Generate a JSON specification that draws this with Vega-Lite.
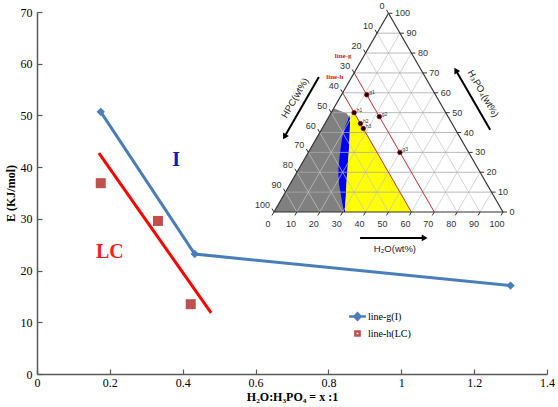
{
  "$schema": "https://vega.github.io/schema/vega-lite/v6.json",
  "width": 510,
  "height": 362,
  "autosize": {"type": "none"},
  "padding": {"left": 37, "top": 12, "right": 11, "bottom": 33},
  "background": "white",
  "config": {
    "view": {"stroke": null},
    "font": "Liberation Serif",
    "axis": {
      "grid": false,
      "domainColor": "#595959",
      "domainWidth": 1.5,
      "tickColor": "#595959",
      "tickWidth": 1.2,
      "labelFont": "Liberation Serif",
      "labelFontSize": 12,
      "labelColor": "#000000",
      "titleFont": "Liberation Serif",
      "titleFontSize": 12,
      "titleFontWeight": "bold",
      "titleColor": "#000000"
    }
  },
  "datasets": {
    "main": [
      {"series": "line-g(I)", "x": 0.175, "E": 50.7},
      {"series": "line-g(I)", "x": 0.433, "E": 23.2},
      {"series": "line-g(I)", "x": 1.3, "E": 17.1},
      {"series": "line-h(LC)", "x": 0.175, "E": 36.9},
      {"series": "line-h(LC)", "x": 0.332, "E": 29.6},
      {"series": "line-h(LC)", "x": 0.422, "E": 13.5}
    ],
    "fit": [{"x": 0.17, "E": 42.7}, {"x": 0.478, "E": 11.8}],
    "notes": [{"label": "I", "x": 0.382, "E": 41.4}, {"label": "LC", "x": 0.2, "E": 23.6}],
    "regions": [
      {"phase": "gray", "ty": 0, "tx": 0, "tx2": 31.0},
      {"phase": "gray", "ty": 7, "tx": 4.04, "tx2": 31.3},
      {"phase": "gray", "ty": 13.9, "tx": 8.03, "tx2": 31.7},
      {"phase": "gray", "ty": 20, "tx": 11.55, "tx2": 32.3},
      {"phase": "gray", "ty": 28.5, "tx": 16.45, "tx2": 32.8},
      {"phase": "gray", "ty": 35, "tx": 20.2, "tx2": 33.2},
      {"phase": "gray", "ty": 40.8, "tx": 23.55, "tx2": 33.2},
      {"phase": "gray", "ty": 43, "tx": 24.8, "tx2": 31.7},
      {"phase": "gray", "ty": 44, "tx": 25.4, "tx2": 29.0},
      {"phase": "gray", "ty": 45.2, "tx": 26.1, "tx2": 26.1},
      {"phase": "blue", "ty": 0, "tx": 30.6, "tx2": 31.0},
      {"phase": "blue", "ty": 4, "tx": 29.8, "tx2": 31.2},
      {"phase": "blue", "ty": 8.2, "tx": 29.1, "tx2": 31.5},
      {"phase": "blue", "ty": 12, "tx": 28.4, "tx2": 31.7},
      {"phase": "blue", "ty": 16.9, "tx": 28.1, "tx2": 32.1},
      {"phase": "blue", "ty": 20, "tx": 28.2, "tx2": 32.3},
      {"phase": "blue", "ty": 25.6, "tx": 28.8, "tx2": 32.7},
      {"phase": "blue", "ty": 32, "tx": 29.7, "tx2": 33.0},
      {"phase": "blue", "ty": 37, "tx": 31.0, "tx2": 33.2},
      {"phase": "blue", "ty": 40, "tx": 32.3, "tx2": 33.2},
      {"phase": "blue", "ty": 42.3, "tx": 32.9, "tx2": 32.9},
      {"phase": "yellow", "ty": 0, "tx": 31.0, "tx2": 60},
      {"phase": "yellow", "ty": 13.9, "tx": 31.7, "tx2": 51.97},
      {"phase": "yellow", "ty": 28.5, "tx": 32.8, "tx2": 43.55},
      {"phase": "yellow", "ty": 38.7, "tx": 33.2, "tx2": 37.66},
      {"phase": "yellow", "ty": 42, "tx": 33.5, "tx2": 35.75},
      {"phase": "yellow", "ty": 44.1, "tx": 33.9, "tx2": 34.54}
    ],
    "grid": [
      {"family": "H", "tx": 5, "ty": 8.66, "tx2": 95, "ty2": 8.66},
      {"family": "H", "tx": 10, "ty": 17.32, "tx2": 90, "ty2": 17.32},
      {"family": "H", "tx": 15, "ty": 25.98, "tx2": 85, "ty2": 25.98},
      {"family": "H", "tx": 20, "ty": 34.64, "tx2": 80, "ty2": 34.64},
      {"family": "H", "tx": 25, "ty": 43.3, "tx2": 75, "ty2": 43.3},
      {"family": "H", "tx": 30, "ty": 51.96, "tx2": 70, "ty2": 51.96},
      {"family": "H", "tx": 35, "ty": 60.62, "tx2": 65, "ty2": 60.62},
      {"family": "H", "tx": 40, "ty": 69.28, "tx2": 60, "ty2": 69.28},
      {"family": "H", "tx": 45, "ty": 77.94, "tx2": 55, "ty2": 77.94},
      {"family": "W", "tx": 10, "ty": 0, "tx2": 55, "ty2": 77.94},
      {"family": "W", "tx": 20, "ty": 0, "tx2": 60, "ty2": 69.28},
      {"family": "W", "tx": 30, "ty": 0, "tx2": 65, "ty2": 60.62},
      {"family": "W", "tx": 40, "ty": 0, "tx2": 70, "ty2": 51.96},
      {"family": "W", "tx": 50, "ty": 0, "tx2": 75, "ty2": 43.3},
      {"family": "W", "tx": 60, "ty": 0, "tx2": 80, "ty2": 34.64},
      {"family": "W", "tx": 70, "ty": 0, "tx2": 85, "ty2": 25.98},
      {"family": "W", "tx": 80, "ty": 0, "tx2": 90, "ty2": 17.32},
      {"family": "W", "tx": 90, "ty": 0, "tx2": 95, "ty2": 8.66},
      {"family": "C", "tx": 90, "ty": 0, "tx2": 45, "ty2": 77.94},
      {"family": "C", "tx": 80, "ty": 0, "tx2": 40, "ty2": 69.28},
      {"family": "C", "tx": 70, "ty": 0, "tx2": 35, "ty2": 60.62},
      {"family": "C", "tx": 60, "ty": 0, "tx2": 30, "ty2": 51.96},
      {"family": "C", "tx": 50, "ty": 0, "tx2": 25, "ty2": 43.3},
      {"family": "C", "tx": 40, "ty": 0, "tx2": 20, "ty2": 34.64},
      {"family": "C", "tx": 30, "ty": 0, "tx2": 15, "ty2": 25.98},
      {"family": "C", "tx": 20, "ty": 0, "tx2": 10, "ty2": 17.32},
      {"family": "C", "tx": 10, "ty": 0, "tx2": 5, "ty2": 8.66}
    ],
    "tri": [
      {"tx": 0, "ty": 0, "tx2": 100, "ty2": 0},
      {"tx": 100, "ty": 0, "tx2": 50, "ty2": 86.6},
      {"tx": 50, "ty": 86.6, "tx2": 0, "ty2": 0}
    ],
    "ticks": [
      {"side": "b", "v": 0, "tx": 0, "ty": 0, "tx2": -0.87, "ty2": -1.5},
      {"side": "b", "v": 10, "tx": 10, "ty": 0, "tx2": 9.13, "ty2": -1.5},
      {"side": "b", "v": 20, "tx": 20, "ty": 0, "tx2": 19.13, "ty2": -1.5},
      {"side": "b", "v": 30, "tx": 30, "ty": 0, "tx2": 29.13, "ty2": -1.5},
      {"side": "b", "v": 40, "tx": 40, "ty": 0, "tx2": 39.13, "ty2": -1.5},
      {"side": "b", "v": 50, "tx": 50, "ty": 0, "tx2": 49.13, "ty2": -1.5},
      {"side": "b", "v": 60, "tx": 60, "ty": 0, "tx2": 59.13, "ty2": -1.5},
      {"side": "b", "v": 70, "tx": 70, "ty": 0, "tx2": 69.13, "ty2": -1.5},
      {"side": "b", "v": 80, "tx": 80, "ty": 0, "tx2": 79.13, "ty2": -1.5},
      {"side": "b", "v": 90, "tx": 90, "ty": 0, "tx2": 89.13, "ty2": -1.5},
      {"side": "b", "v": 100, "tx": 100, "ty": 0, "tx2": 99.13, "ty2": -1.5},
      {"side": "r", "v": 0, "tx": 100, "ty": 0, "tx2": 101.75, "ty2": 0},
      {"side": "r", "v": 10, "tx": 95, "ty": 8.66, "tx2": 96.75, "ty2": 8.66},
      {"side": "r", "v": 20, "tx": 90, "ty": 17.32, "tx2": 91.75, "ty2": 17.32},
      {"side": "r", "v": 30, "tx": 85, "ty": 25.98, "tx2": 86.75, "ty2": 25.98},
      {"side": "r", "v": 40, "tx": 80, "ty": 34.64, "tx2": 81.75, "ty2": 34.64},
      {"side": "r", "v": 50, "tx": 75, "ty": 43.3, "tx2": 76.75, "ty2": 43.3},
      {"side": "r", "v": 60, "tx": 70, "ty": 51.96, "tx2": 71.75, "ty2": 51.96},
      {"side": "r", "v": 70, "tx": 65, "ty": 60.62, "tx2": 66.75, "ty2": 60.62},
      {"side": "r", "v": 80, "tx": 60, "ty": 69.28, "tx2": 61.75, "ty2": 69.28},
      {"side": "r", "v": 90, "tx": 55, "ty": 77.94, "tx2": 56.75, "ty2": 77.94},
      {"side": "r", "v": 100, "tx": 50, "ty": 86.6, "tx2": 51.75, "ty2": 86.6},
      {"side": "l", "v": 0, "tx": 50, "ty": 86.6, "tx2": 49.13, "ty2": 88.1},
      {"side": "l", "v": 10, "tx": 45, "ty": 77.94, "tx2": 44.13, "ty2": 79.44},
      {"side": "l", "v": 20, "tx": 40, "ty": 69.28, "tx2": 39.13, "ty2": 70.78},
      {"side": "l", "v": 30, "tx": 35, "ty": 60.62, "tx2": 34.13, "ty2": 62.12},
      {"side": "l", "v": 40, "tx": 30, "ty": 51.96, "tx2": 29.13, "ty2": 53.46},
      {"side": "l", "v": 50, "tx": 25, "ty": 43.3, "tx2": 24.13, "ty2": 44.8},
      {"side": "l", "v": 60, "tx": 20, "ty": 34.64, "tx2": 19.13, "ty2": 36.14},
      {"side": "l", "v": 70, "tx": 15, "ty": 25.98, "tx2": 14.13, "ty2": 27.48},
      {"side": "l", "v": 80, "tx": 10, "ty": 17.32, "tx2": 9.13, "ty2": 18.82},
      {"side": "l", "v": 90, "tx": 5, "ty": 8.66, "tx2": 4.13, "ty2": 10.16},
      {"side": "l", "v": 100, "tx": 0, "ty": 0, "tx2": -0.87, "ty2": 1.5}
    ],
    "redlines": [
      {"line": "line-g", "tx": 35, "ty": 60.62, "tx2": 70, "ty2": 0},
      {"line": "line-h", "tx": 30, "ty": 51.96, "tx2": 60, "ty2": 0}
    ],
    "redlabels": [
      {"label": "line-g", "tx": 30.2, "ty": 68.0},
      {"label": "line-h", "tx": 26.6, "ty": 59.0}
    ],
    "comp": [
      {"name": "g1", "tx": 40.5, "ty": 51.09},
      {"name": "g2", "tx": 46, "ty": 41.57},
      {"name": "g3", "tx": 55, "ty": 25.98},
      {"name": "h1", "tx": 35, "ty": 43.3},
      {"name": "h2", "tx": 37.75, "ty": 38.54},
      {"name": "h3", "tx": 39, "ty": 36.37}
    ],
    "ttitles": [
      {"side": "b", "label": "H₂O(wt%)", "tx": 52.8, "ty": -16.1},
      {"side": "l", "label": "HPC(wt%)", "tx": 9.2, "ty": 49.7},
      {"side": "r", "label": "H₃PO₄(wt%)", "tx": 91.3, "ty": 51.6}
    ],
    "arrows": [
      {"side": "b", "tx": 37.6, "ty": -11.3, "tx2": 65.5, "ty2": -11.3},
      {"side": "l", "tx": 19.6, "ty": 58.8, "tx2": 4.6, "ty2": 32.8},
      {"side": "r", "tx": 94.4, "ty": 35.8, "tx2": 79.4, "ty2": 61.8}
    ],
    "heads": [
      {"side": "b", "tx": 65.8, "ty": -11.3},
      {"side": "l", "tx": 4.6, "ty": 32.8},
      {"side": "r", "tx": 79.4, "ty": 61.8}
    ]
  },
  "layer": [
    {
      "encoding": {
        "x": {
          "field": "x", "type": "quantitative",
          "scale": {"domain": [0, 1.4], "nice": false, "zero": false},
          "axis": {
            "values": [0, 0.2, 0.4, 0.6, 0.8, 1, 1.2, 1.4],
            "format": "~g",
            "title": "H₂O:H₃PO₄ = x :1",
            "tickSize": -5,
            "labelPadding": 8,
            "titlePadding": 3,
            "labelFlush": false
          }
        },
        "y": {
          "field": "E", "type": "quantitative",
          "scale": {"domain": [0, 70], "nice": false, "zero": false},
          "axis": {
            "values": [0, 10, 20, 30, 40, 50, 60, 70],
            "title": "E (KJ/mol)",
            "tickSize": -5,
            "labelPadding": 10,
            "titlePadding": 3
          }
        }
      },
      "layer": [
        {
          "data": {"name": "fit"},
          "mark": {"type": "line", "color": "#ff0000", "strokeWidth": 3}
        },
        {
          "data": {"name": "main"},
          "transform": [{"filter": "datum.series === 'line-g(I)'"}],
          "mark": {"type": "line", "color": "#4a7ebb", "strokeWidth": 3}
        },
        {
          "data": {"name": "main"},
          "transform": [{"filter": "datum.series === 'line-g(I)'"}],
          "mark": {"type": "point", "shape": "diamond", "filled": true, "color": "#4a7ebb", "size": 70, "opacity": 1}
        },
        {
          "data": {"name": "main"},
          "transform": [{"filter": "datum.series === 'line-h(LC)'"}],
          "mark": {"type": "square", "size": 100, "color": "#c0504d", "opacity": 1}
        },
        {
          "data": {"name": "main"},
          "mark": {"type": "point", "filled": true, "opacity": 0, "strokeWidth": 2.5, "size": 196},
          "encoding": {
            "color": {
              "field": "series", "type": "nominal",
              "scale": {"domain": ["line-g(I)", "line-h(LC)"], "range": ["#4a7ebb", "#c0504d"]},
              "legend": {
                "title": null,
                "orient": "none",
                "legendX": 312,
                "legendY": 296,
                "padding": 0,
                "labelFont": "Liberation Serif",
                "labelFontSize": 10,
                "labelColor": "#000000",
                "symbolSize": 196,
                "symbolOpacity": 1,
                "symbolStrokeWidth": 2.5,
                "labelOffset": 2,
                "rowPadding": -1
              }
            },
            "stroke": {
              "field": "series", "type": "nominal",
              "scale": {"domain": ["line-g(I)", "line-h(LC)"], "range": ["#4a7ebb", "#c0504d"]}
            },
            "shape": {
              "field": "series", "type": "nominal",
              "scale": {"domain": ["line-g(I)", "line-h(LC)"], "range": ["M-1.2,0L1.2,0M0,-0.45L0.45,0L0,0.45L-0.45,0Z", "M-0.3,-0.3L0.3,-0.3L0.3,0.3L-0.3,0.3Z"]}
            }
          }
        },
        {
          "data": {"name": "notes"},
          "transform": [{"filter": "datum.label === 'I'"}],
          "mark": {"type": "text", "font": "Liberation Serif", "fontWeight": "bold", "fontSize": 20, "color": "#1414c8", "baseline": "middle", "align": "center"},
          "encoding": {"text": {"field": "label"}}
        },
        {
          "data": {"name": "notes"},
          "transform": [{"filter": "datum.label === 'LC'"}],
          "mark": {"type": "text", "font": "Liberation Serif", "fontWeight": "bold", "fontSize": 20, "color": "#ff1a1a", "baseline": "middle", "align": "center"},
          "encoding": {"text": {"field": "label"}}
        }
      ]
    },
    {
      "encoding": {
        "x": {
          "field": "tx", "type": "quantitative",
          "scale": {"domain": [-103.49, 119.22], "nice": false, "zero": false},
          "axis": null
        },
        "y": {
          "field": "ty", "type": "quantitative",
          "scale": {"domain": [-70.6, 87.17], "nice": false, "zero": false},
          "axis": null
        }
      },
      "layer": [
        {
          "data": {"name": "regions"},
          "transform": [{"filter": "datum.phase === 'gray'"}],
          "mark": {"type": "area", "orient": "horizontal", "color": "#808080", "opacity": 1},
          "encoding": {"x2": {"field": "tx2"}}
        },
        {
          "data": {"name": "regions"},
          "transform": [{"filter": "datum.phase === 'blue'"}],
          "mark": {"type": "area", "orient": "horizontal", "color": "#0000ff", "opacity": 1},
          "encoding": {"x2": {"field": "tx2"}}
        },
        {
          "data": {"name": "regions"},
          "transform": [{"filter": "datum.phase === 'yellow'"}],
          "mark": {"type": "area", "orient": "horizontal", "color": "#ffff00", "opacity": 1},
          "encoding": {"x2": {"field": "tx2"}}
        },
        {
          "data": {"name": "grid"},
          "transform": [{"filter": "datum.family !== 'H'"}],
          "mark": {"type": "rule", "color": "#c4c4c4", "strokeWidth": 0.7},
          "encoding": {"x2": {"field": "tx2"}, "y2": {"field": "ty2"}}
        },
        {
          "data": {"name": "grid"},
          "transform": [{"filter": "datum.family === 'H'"}],
          "mark": {"type": "rule", "color": "#a8a8a8", "strokeWidth": 0.8},
          "encoding": {"x2": {"field": "tx2"}, "y2": {"field": "ty2"}}
        },
        {
          "data": {"name": "redlines"},
          "mark": {"type": "rule", "color": "#d03a3a", "strokeWidth": 1},
          "encoding": {"x2": {"field": "tx2"}, "y2": {"field": "ty2"}}
        },
        {
          "data": {"name": "tri"},
          "mark": {"type": "rule", "color": "#333333", "strokeWidth": 1.2},
          "encoding": {"x2": {"field": "tx2"}, "y2": {"field": "ty2"}}
        },
        {
          "data": {"name": "ticks"},
          "mark": {"type": "rule", "color": "#333333", "strokeWidth": 1},
          "encoding": {"x2": {"field": "tx2"}, "y2": {"field": "ty2"}}
        },
        {
          "data": {"name": "ticks"},
          "transform": [{"filter": "datum.side === 'b'"}],
          "mark": {"type": "text", "font": "Liberation Sans", "fontSize": 9, "color": "#333333", "align": "center", "baseline": "middle", "dx": -6, "dy": 12},
          "encoding": {"text": {"field": "v", "type": "quantitative", "format": "d"}}
        },
        {
          "data": {"name": "ticks"},
          "transform": [{"filter": "datum.side === 'r'"}],
          "mark": {"type": "text", "font": "Liberation Sans", "fontSize": 9, "color": "#333333", "align": "left", "baseline": "middle", "dx": 6.5, "dy": 0},
          "encoding": {"text": {"field": "v", "type": "quantitative", "format": "d"}}
        },
        {
          "data": {"name": "ticks"},
          "transform": [{"filter": "datum.side === 'l'"}],
          "mark": {"type": "text", "font": "Liberation Sans", "fontSize": 9, "color": "#333333", "align": "right", "baseline": "middle", "dx": -4, "dy": -7},
          "encoding": {"text": {"field": "v", "type": "quantitative", "format": "d"}}
        },
        {
          "data": {"name": "comp"},
          "mark": {"type": "point", "filled": true, "color": "#000000", "stroke": "#a00000", "strokeWidth": 0.8, "size": 20, "opacity": 1},
          "encoding": {}
        },
        {
          "data": {"name": "comp"},
          "mark": {"type": "text", "font": "Liberation Sans", "fontSize": 5, "color": "#333333", "align": "left", "baseline": "middle", "dx": 2.5, "dy": -3},
          "encoding": {"text": {"field": "name"}}
        },
        {
          "data": {"name": "redlabels"},
          "mark": {"type": "text", "font": "Liberation Serif", "fontWeight": "bold", "fontSize": 7, "color": "#cc1f1f", "align": "center", "baseline": "middle"},
          "encoding": {"text": {"field": "label"}}
        },
        {
          "data": {"name": "ttitles"},
          "transform": [{"filter": "datum.side === 'b'"}],
          "mark": {"type": "text", "font": "Liberation Sans", "fontSize": 9.5, "color": "#222222", "align": "center", "baseline": "middle"},
          "encoding": {"text": {"field": "label"}}
        },
        {
          "data": {"name": "ttitles"},
          "transform": [{"filter": "datum.side === 'l'"}],
          "mark": {"type": "text", "font": "Liberation Sans", "fontSize": 9.5, "color": "#222222", "align": "center", "baseline": "middle", "angle": 300},
          "encoding": {"text": {"field": "label"}}
        },
        {
          "data": {"name": "ttitles"},
          "transform": [{"filter": "datum.side === 'r'"}],
          "mark": {"type": "text", "font": "Liberation Sans", "fontSize": 9.5, "color": "#222222", "align": "center", "baseline": "middle", "angle": 60},
          "encoding": {"text": {"field": "label"}}
        },
        {
          "data": {"name": "arrows"},
          "mark": {"type": "rule", "color": "#000000", "strokeWidth": 2},
          "encoding": {"x2": {"field": "tx2"}, "y2": {"field": "ty2"}}
        },
        {
          "data": {"name": "heads"},
          "transform": [{"filter": "datum.side === 'b'"}],
          "mark": {"type": "point", "shape": "triangle-right", "filled": true, "color": "#000000", "size": 45, "opacity": 1},
          "encoding": {}
        },
        {
          "data": {"name": "heads"},
          "transform": [{"filter": "datum.side === 'l'"}],
          "mark": {"type": "point", "shape": "triangle-up", "angle": 210, "filled": true, "color": "#000000", "size": 45, "opacity": 1},
          "encoding": {}
        },
        {
          "data": {"name": "heads"},
          "transform": [{"filter": "datum.side === 'r'"}],
          "mark": {"type": "point", "shape": "triangle-up", "angle": 330, "filled": true, "color": "#000000", "size": 45, "opacity": 1},
          "encoding": {}
        }
      ]
    }
  ],
  "resolve": {"scale": {"x": "independent", "y": "independent"}}
}
